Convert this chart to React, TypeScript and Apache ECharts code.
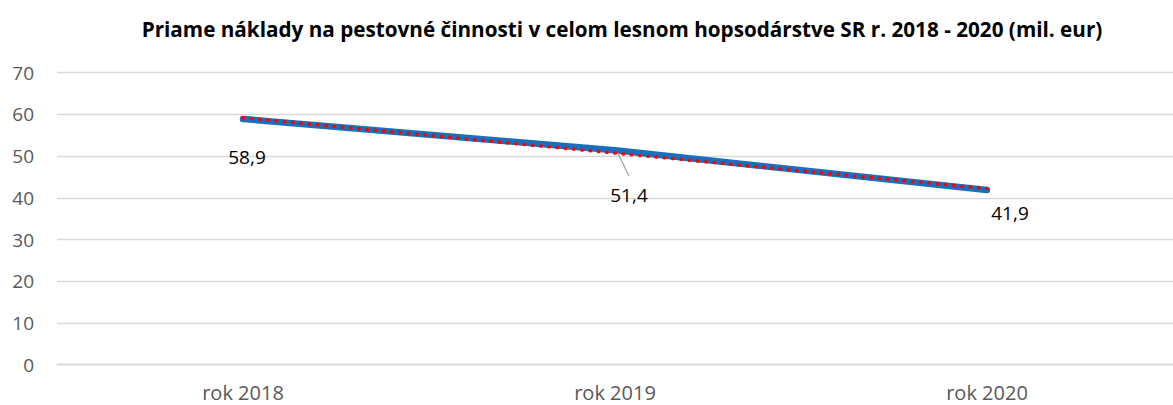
import React, { useEffect, useRef } from "react";
import * as echarts from "echarts";

const TITLE = "Priame náklady na pestovné činnosti v celom lesnom hopsodárstve SR r. 2018 - 2020 (mil. eur)";
const CATEGORIES = ["rok 2018", "rok 2019", "rok 2020"];
const VALUES = [58.9, 51.4, 41.9];
const TREND = [59.23, 50.73, 42.23];
const LABEL_OFFSETS = [[4, 38], [14, 45], [23, 23]];

export default function App() {
  const ref = useRef<HTMLDivElement>(null);
  useEffect(() => {
    document.body.style.margin = "0";
    const chart = echarts.init(ref.current!, null, { renderer: "svg" });
    const font = "'Open Sans', 'Noto Sans', sans-serif";
    chart.setOption({
      animation: false,
      title: {
        text: TITLE,
        left: 617,
        textAlign: "center",
        top: 13,
        textStyle: { fontFamily: font, fontSize: 20.7, fontWeight: "bold", color: "#000" },
      },
      grid: { left: 57, top: 72.7, width: 1125, height: 292, containLabel: false },
      xAxis: {
        type: "category",
        data: CATEGORIES,
        axisLine: { lineStyle: { color: "#D9D9D9", width: 1.3 } },
        axisTick: { show: false },
        axisLabel: { color: "#595959", fontFamily: font, fontSize: 20, margin: 18 },
      },
      yAxis: {
        type: "value",
        min: 0,
        max: 70,
        interval: 10,
        axisLine: { show: false },
        axisTick: { show: false },
        splitLine: { lineStyle: { color: "#D9D9D9", width: 1.3 } },
        axisLabel: { color: "#595959", fontFamily: font, fontSize: 19, margin: 23 },
      },
      series: [
        {
          type: "line",
          data: VALUES.map((v, i) => ({
            value: v,
            label: { offset: LABEL_OFFSETS[i] },
          })),
          showSymbol: true,
          symbol: "circle",
          symbolSize: 0.01,
          itemStyle: { color: "#1A6FBC" },
          lineStyle: { color: "#1A6FBC", width: 6.5, cap: "round" },
          label: {
            show: true,
            position: "inside",
            color: "#000",
            fontFamily: font,
            fontSize: 19,
            formatter: (p: any) => String(p.value).replace(".", ","),
          },
          z: 2,
        },
        {
          type: "line",
          data: TREND,
          showSymbol: false,
          symbol: "none",
          lineStyle: { color: "#FF0000", width: 3.5, type: [0.5, 7.8], cap: "round" },
          z: 3,
        },
      ],
    });
    const p = chart.convertToPixel({ gridIndex: 0 }, [CATEGORIES[1], VALUES[1]]) as number[];
    chart.setOption({
      graphic: [
        {
          type: "line",
          shape: { x1: p[0] + 3, y1: p[1] + 3, x2: p[0] + 14, y2: p[1] + 26 },
          style: { stroke: "#A6A6A6", lineWidth: 1.3 },
          z: 10,
        },
      ],
    });
    return () => chart.dispose();
  }, []);
  return <div ref={ref} style={{ width: 1173, height: 405 }} />;
}
